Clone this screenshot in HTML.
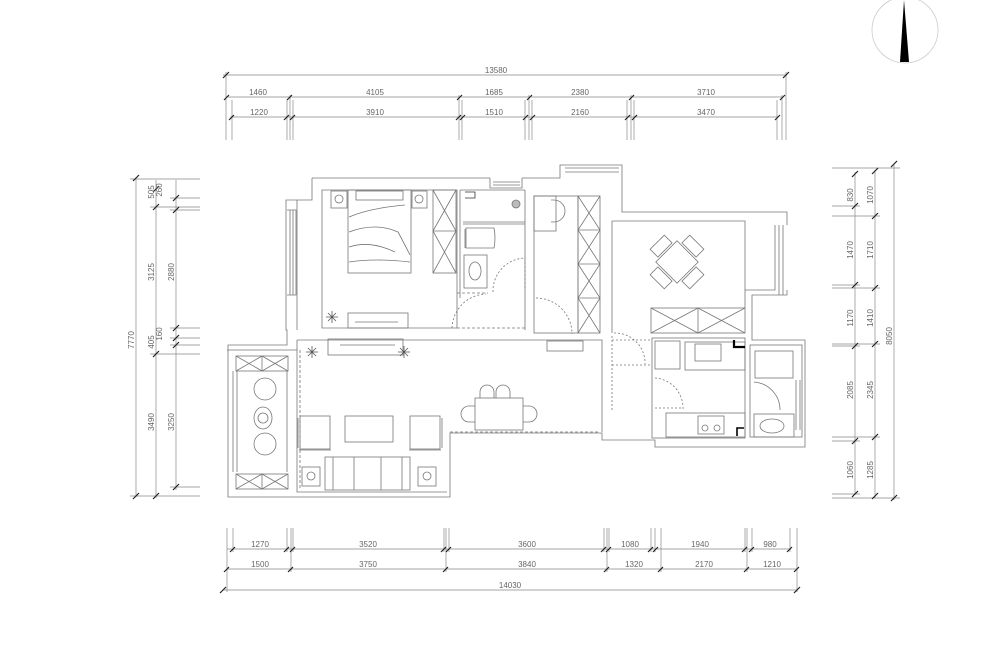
<!DOCTYPE html>
<html><head><meta charset="utf-8"><style>
html,body{margin:0;padding:0;background:#fff;width:1000px;height:647px;overflow:hidden}
svg{display:block}
text{font-family:"Liberation Sans",sans-serif;font-size:8px;fill:#666}
</style></head><body>
<svg width="1000" height="647" viewBox="0 0 1000 647" xmlns="http://www.w3.org/2000/svg">
<g stroke="#777" stroke-width="0.8" fill="none">
<circle cx="905" cy="30" r="33" stroke="#ccc"/>
</g>
<polygon points="904,0 900,62 909,62" fill="#000"/>

<g stroke="#888" stroke-width="0.7" fill="none">
<line x1="223" y1="75" x2="787" y2="75"/>
<line x1="226" y1="97" x2="783" y2="97"/>
<line x1="230" y1="117" x2="778" y2="117"/>
<line x1="226" y1="72" x2="226" y2="140"/><line x1="786" y1="72" x2="786" y2="140"/>
<line x1="232" y1="100" x2="232" y2="140"/><line x1="287" y1="100" x2="287" y2="140"/><line x1="290" y1="95" x2="290" y2="140"/><line x1="293" y1="100" x2="293" y2="140"/>
<line x1="459" y1="95" x2="459" y2="140"/><line x1="462" y1="100" x2="462" y2="140"/>
<line x1="525" y1="100" x2="525" y2="140"/><line x1="529" y1="95" x2="529" y2="140"/><line x1="532" y1="100" x2="532" y2="140"/>
<line x1="627" y1="100" x2="627" y2="140"/><line x1="631" y1="95" x2="631" y2="140"/><line x1="634" y1="100" x2="634" y2="140"/>
<line x1="777" y1="100" x2="777" y2="140"/><line x1="782" y1="95" x2="782" y2="140"/>
<line x1="136" y1="178" x2="136" y2="497"/>
<line x1="156" y1="180" x2="156" y2="498"/>
<line x1="176" y1="180" x2="176" y2="490"/>
<line x1="130" y1="496" x2="200" y2="496"/><line x1="130" y1="179" x2="200" y2="179"/>
<line x1="150" y1="207" x2="200" y2="207"/><line x1="170" y1="198" x2="200" y2="198"/><line x1="170" y1="210" x2="200" y2="210"/>
<line x1="150" y1="354" x2="200" y2="354"/><line x1="170" y1="328" x2="200" y2="328"/><line x1="170" y1="338" x2="200" y2="338"/><line x1="170" y1="345" x2="200" y2="345"/>
<line x1="170" y1="487" x2="200" y2="487"/>
<line x1="855" y1="172" x2="855" y2="495"/>
<line x1="875" y1="170" x2="875" y2="498"/>
<line x1="894" y1="165" x2="894" y2="500"/>
<line x1="832" y1="168" x2="900" y2="168"/><line x1="832" y1="498" x2="900" y2="498"/>
<line x1="832" y1="206" x2="860" y2="206"/><line x1="832" y1="216" x2="880" y2="216"/>
<line x1="832" y1="285" x2="860" y2="285"/><line x1="832" y1="288" x2="880" y2="288"/>
<line x1="832" y1="344" x2="880" y2="344"/><line x1="832" y1="346" x2="860" y2="346"/>
<line x1="832" y1="437" x2="880" y2="437"/><line x1="832" y1="441" x2="860" y2="441"/>
<line x1="832" y1="494" x2="860" y2="494"/>
<line x1="223" y1="590" x2="797" y2="590"/>
<line x1="227" y1="549" x2="791" y2="549"/>
<line x1="227" y1="569" x2="797" y2="569"/>
<line x1="227" y1="528" x2="227" y2="592"/><line x1="233" y1="528" x2="233" y2="552"/>
<line x1="287" y1="528" x2="287" y2="552"/><line x1="291" y1="528" x2="291" y2="572"/><line x1="293" y1="528" x2="293" y2="552"/>
<line x1="444" y1="528" x2="444" y2="552"/><line x1="446" y1="528" x2="446" y2="572"/><line x1="449" y1="528" x2="449" y2="552"/>
<line x1="604" y1="528" x2="604" y2="552"/><line x1="607" y1="528" x2="607" y2="572"/><line x1="609" y1="528" x2="609" y2="552"/>
<line x1="651" y1="528" x2="651" y2="552"/><line x1="655" y1="528" x2="655" y2="552"/><line x1="661" y1="528" x2="661" y2="572"/>
<line x1="745" y1="528" x2="745" y2="552"/><line x1="747" y1="528" x2="747" y2="572"/><line x1="752" y1="528" x2="752" y2="552"/>
<line x1="790" y1="528" x2="790" y2="552"/><line x1="797" y1="528" x2="797" y2="592"/>
</g>
<g stroke="#222" stroke-width="1.2">
<path d="M223,78l6,-6M783,78l6,-6M224,100l5,-5M287,100l5,-5M457,100l5,-5M527,100l5,-5M629,100l5,-5M780,100l5,-5
M229,120l5,-5M284,120l5,-5M290,120l5,-5M456,120l5,-5M460,120l5,-5M523,120l5,-5M530,120l5,-5M625,120l5,-5M632,120l5,-5M775,120l5,-5
M133,181l6,-6M133,499l6,-6M153,210l6,-6M153,357l6,-6M153,499l6,-6M153,192l6,-6M173,201l6,-6M173,213l6,-6M173,331l6,-6M173,341l6,-6M173,348l6,-6M173,490l6,-6
M852,177l6,-6M852,209l6,-6M852,288l6,-6M852,349l6,-6M852,444l6,-6M852,497l6,-6M872,174l6,-6M872,219l6,-6M872,291l6,-6M872,347l6,-6M872,440l6,-6M872,499l6,-6M891,167l6,-6M891,501l6,-6
M230,552l5,-5M284,552l5,-5M290,552l5,-5M441,552l5,-5M446,552l5,-5M601,552l5,-5M606,552l5,-5M648,552l5,-5M653,552l5,-5M742,552l5,-5M749,552l5,-5M787,552l5,-5
M224,572l5,-5M288,572l5,-5M443,572l5,-5M604,572l5,-5M658,572l5,-5M744,572l5,-5M794,572l5,-5M220,593l6,-6M794,593l6,-6"/>
</g>
<g>
<text x="496" y="73" text-anchor="middle">13580</text>
<text x="258" y="95" text-anchor="middle">1460</text><text x="375" y="95" text-anchor="middle">4105</text><text x="494" y="95" text-anchor="middle">1685</text><text x="580" y="95" text-anchor="middle">2380</text><text x="706" y="95" text-anchor="middle">3710</text>
<text x="259" y="115" text-anchor="middle">1220</text><text x="375" y="115" text-anchor="middle">3910</text><text x="494" y="115" text-anchor="middle">1510</text><text x="580" y="115" text-anchor="middle">2160</text><text x="706" y="115" text-anchor="middle">3470</text>
<text x="260" y="547" text-anchor="middle">1270</text><text x="368" y="547" text-anchor="middle">3520</text><text x="527" y="547" text-anchor="middle">3600</text><text x="630" y="547" text-anchor="middle">1080</text><text x="700" y="547" text-anchor="middle">1940</text><text x="770" y="547" text-anchor="middle">980</text>
<text x="260" y="567" text-anchor="middle">1500</text><text x="368" y="567" text-anchor="middle">3750</text><text x="527" y="567" text-anchor="middle">3840</text><text x="634" y="567" text-anchor="middle">1320</text><text x="704" y="567" text-anchor="middle">2170</text><text x="772" y="567" text-anchor="middle">1210</text>
<text x="510" y="588" text-anchor="middle">14030</text>
<g text-anchor="middle">
<text transform="translate(134,340) rotate(-90)">7770</text>
<text transform="translate(154,192) rotate(-90)">505</text>
<text transform="translate(162,190) rotate(-90)">260</text>
<text transform="translate(154,272) rotate(-90)">3125</text>
<text transform="translate(174,272) rotate(-90)">2880</text>
<text transform="translate(154,342) rotate(-90)">405</text>
<text transform="translate(162,334) rotate(-90)">160</text>
<text transform="translate(154,422) rotate(-90)">3490</text>
<text transform="translate(174,422) rotate(-90)">3250</text>
<text transform="translate(853,195) rotate(-90)">830</text>
<text transform="translate(873,195) rotate(-90)">1070</text>
<text transform="translate(853,250) rotate(-90)">1470</text>
<text transform="translate(873,250) rotate(-90)">1710</text>
<text transform="translate(853,318) rotate(-90)">1170</text>
<text transform="translate(873,318) rotate(-90)">1410</text>
<text transform="translate(892,336) rotate(-90)">8050</text>
<text transform="translate(853,390) rotate(-90)">2085</text>
<text transform="translate(873,390) rotate(-90)">2345</text>
<text transform="translate(853,470) rotate(-90)">1060</text>
<text transform="translate(873,470) rotate(-90)">1285</text>
</g></g>

<g stroke="#777" stroke-width="0.8" fill="none">
<path d="M312,178 H490 M522,178 H560 V165 H622 V212 H787 V225 M787,290 V295 H752 V340 H805 V447 H655 V440 H602 V433 H450 V497 H228 V345 H287 V330 H286 V200 H312 V178"/>
<path d="M322,190 H457 V328 H322 Z"/>
<path d="M297,200 V330 M297,340 H602 V432 M297,340 V492 H447 M227,350 H297"/>
<path d="M287,210 H296 V295 H287 M290,210 V295 M293,210 V295"/>
<path d="M490,178 V188 H522 V178 M493,182 H520 M493,185 H520"/>
<rect x="348" y="190" width="63" height="83"/>
<rect x="356" y="191" width="47" height="9"/>
<path d="M349,217 Q370,208 405,205 M349,232 Q375,222 398,232 Q405,245 410,255 M349,247 Q370,240 395,252 M349,262 Q375,258 410,262"/>
<rect x="331" y="191" width="16" height="17"/><circle cx="339" cy="199" r="4"/>
<rect x="412" y="191" width="15" height="17"/><circle cx="419" cy="199" r="4"/>
<rect x="433" y="190" width="23" height="83"/>
<path d="M433,231 H456 M433,190 L456,231 M456,190 L433,231 M433,231 L456,273 M456,231 L433,273"/>
<rect x="348" y="313" width="60" height="15"/>
<path d="M355,322 H398"/>
<path d="M460,190 H525 M460,190 V298 M525,190 V330 M463,222 H525 M463,224 H525"/>
<path d="M466,228 H494 Q496,238 494,248 H466 Z M465,229 V248"/>
<rect x="464" y="255" width="23" height="33"/><ellipse cx="475" cy="271" rx="6" ry="9"/>
<circle cx="516" cy="204" r="4" fill="#bbb"/>
<path d="M465,192 H475 V198 H465" stroke="#333"/>
<path d="M525,258 V290 M493,292 A33,33 0 0 1 525,258" stroke-dasharray="2,2"/>
<path d="M457,293 H488 M457,328 H525" stroke-dasharray="3,2"/>
<path d="M452,328 A35,35 0 0 1 486,294" stroke-dasharray="2,2"/>
<rect x="534" y="196" width="44" height="137"/>
<rect x="534" y="196" width="22" height="35"/>
<path d="M551,200 H554 A10,10 0 0 1 554,222 H551"/>
<rect x="578" y="196" width="22" height="137"/>
<path d="M578,230 H600 M578,264 H600 M578,298 H600 M578,196 L600,230 M600,196 L578,230 M578,230 L600,264 M600,230 L578,264 M578,264 L600,298 M600,264 L578,298 M578,298 L600,333 M600,298 L578,333"/>
<path d="M536,298 A36,36 0 0 1 572,334" stroke-dasharray="2,2"/>
<path d="M565,168 H619 M565,172 H619"/>
<path d="M612,221 H745 V308 M612,221 V333 M745,221 V290 H775 V225 M779,225 V295 M783,225 V295"/>
<g transform="translate(677,262) rotate(45)">
<rect x="-15" y="-15" width="30" height="30"/>
<rect x="-10" y="-28" width="20" height="11"/><rect x="-10" y="17" width="20" height="11"/>
<rect x="-28" y="-10" width="11" height="20"/><rect x="17" y="-10" width="11" height="20"/>
</g>
<rect x="651" y="308" width="94" height="25"/>
<path d="M698,308 V333 M651,308 L698,333 M698,308 L651,333 M698,308 L745,333 M745,308 L698,333"/>
<rect x="652" y="338" width="93" height="100"/>
<rect x="655" y="341" width="25" height="28"/>
<rect x="685" y="342" width="60" height="28"/>
<rect x="695" y="344" width="26" height="17"/>
<path d="M734,340 V347 H745" stroke="#000" stroke-width="2.2"/>
<rect x="666" y="413" width="79" height="24"/>
<rect x="698" y="416" width="26" height="18"/><circle cx="705" cy="428" r="3"/><circle cx="717" cy="428" r="3"/>
<path d="M737,436 V428 H744" stroke="#000" stroke-width="1.6"/>
<path d="M655,378 A30,30 0 0 1 683,409 M655,408 H683" stroke-dasharray="2,2"/>
<path d="M612,340 H652 M612,336 V412 M612,365 H650 M614,333 A30,30 0 0 1 645,364" stroke-dasharray="2,2"/>
<rect x="750" y="345" width="52" height="92"/>
<rect x="755" y="351" width="38" height="27"/>
<rect x="754" y="414" width="40" height="23"/><ellipse cx="772" cy="426" rx="12" ry="7"/>
<path d="M796,380 V430 M800,380 V430 M754,382 A28,28 0 0 1 780,410" />
<rect x="328" y="339" width="75" height="16"/>
<path d="M340,345 H395"/>
<rect x="547" y="341" width="36" height="10"/>
<g stroke="#555"><path d="M308,348 l8,8 M316,348 l-8,8 M312,346 v12 M306,352 h12 M400,348 l8,8 M408,348 l-8,8 M404,346 v12 M398,352 h12 M328,313 l8,8 M336,313 l-8,8 M332,311 v12 M326,317 h12"/></g>
<rect x="236" y="356" width="52" height="15"/>
<path d="M262,356 V371 M236,356 L262,371 M262,356 L236,371 M262,356 L288,371 M288,356 L262,371"/>
<rect x="236" y="474" width="52" height="15"/>
<path d="M262,474 V489 M236,474 L262,489 M262,474 L236,489 M262,474 L288,489 M288,474 L262,489"/>
<path d="M233,371 V472 M237,371 V472 M287,371 V472" />
<circle cx="265" cy="389" r="11"/><ellipse cx="263" cy="418" rx="9" ry="11"/><circle cx="263" cy="418" r="5"/><circle cx="265" cy="444" r="11"/>
<rect x="300" y="416" width="30" height="33"/><path d="M298,418 V448 M299,450 H331"/>
<rect x="410" y="416" width="30" height="33"/><path d="M442,418 V448 M409,450 H441"/>
<rect x="345" y="416" width="48" height="26"/>
<rect x="325" y="457" width="85" height="33"/><path d="M333,457 V490 M354,457 V490 M381,457 V490 M402,457 V490"/>
<rect x="302" y="467" width="18" height="19"/><circle cx="311" cy="476" r="4"/>
<rect x="418" y="467" width="18" height="19"/><circle cx="427" cy="476" r="4"/>
<rect x="475" y="398" width="48" height="32"/>
<path d="M480,398 V392 A7,7 0 0 1 494,392 V398 M496,398 V392 A7,7 0 0 1 510,392 V398 M475,406 H469 A8,8 0 0 0 469,422 H475 M523,406 H529 A8,8 0 0 1 529,422 H523"/>
<path d="M300,350 V490 M450,432 H600" stroke-dasharray="3,2"/>
</g>
</svg>
</body></html>
